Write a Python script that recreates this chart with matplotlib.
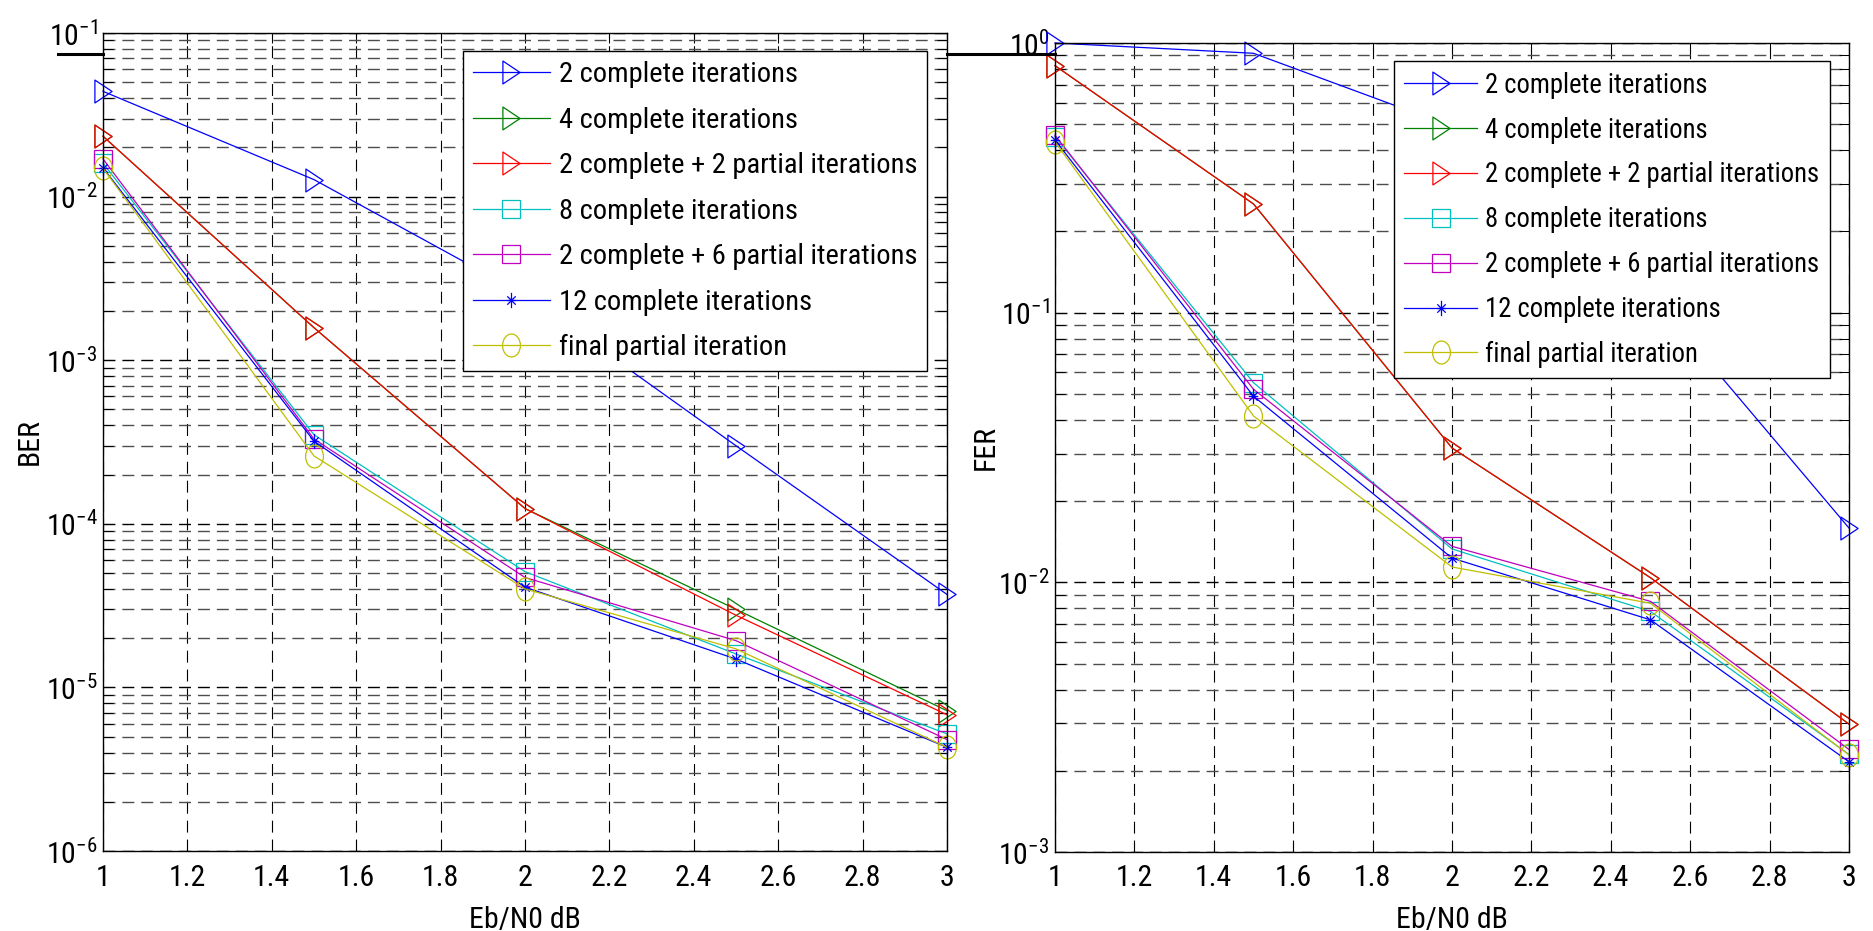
import matplotlib
matplotlib.use('Agg')
import matplotlib.pyplot as plt
from matplotlib import font_manager as fm
from matplotlib.path import Path
from matplotlib.lines import Line2D
from matplotlib.ticker import LogLocator, NullFormatter, FixedLocator, FixedFormatter, FuncFormatter
import numpy as np

# ---------------- data ----------------
ebn0 = [1.0, 1.5, 2.0, 2.5, 3.0]
xtick_vals = [1.0, 1.2, 1.4, 1.6, 1.8, 2.0, 2.2, 2.4, 2.6, 2.8, 3.0]
xtick_labels = ['1', '1.2', '1.4', '1.6', '1.8', '2', '2.2', '2.4', '2.6', '2.8', '3']

series_labels = ['2 complete iterations', '4 complete iterations',
                 '2 complete + 2 partial iterations', '8 complete iterations',
                 '2 complete + 6 partial iterations', '12 complete iterations',
                 'final partial iteration']

ber_2c = [4.4e-2, 1.27e-2, 2.5e-3, 3.0e-4, 3.7e-5]
ber_4c = [2.34e-2, 1.58e-3, 1.24e-4, 3.0e-5, 7.2e-6]
ber_2c2p = [2.34e-2, 1.58e-3, 1.24e-4, 2.76e-5, 6.8e-6]
ber_8c = [1.6e-2, 3.5e-4, 5.1e-5, 1.6e-5, 5.2e-6]
ber_2c6p = [1.7e-2, 3.3e-4, 4.7e-5, 1.93e-5, 4.8e-6]
ber_12c = [1.5e-2, 3.2e-4, 4.1e-5, 1.49e-5, 4.3e-6]
ber_final = [1.49e-2, 2.6e-4, 4.0e-5, 1.72e-5, 4.3e-6]

fer_2c = [1.0, 0.916, 0.49, 0.118, 0.0159]
fer_4c = [0.824, 0.253, 0.0315, 0.0104, 2.98e-3]
fer_2c2p = [0.824, 0.253, 0.0315, 0.0104, 2.98e-3]
fer_8c = [0.45, 0.055, 0.0133, 7.8e-3, 2.3e-3]
fer_2c6p = [0.455, 0.052, 0.0136, 8.5e-3, 2.4e-3]
fer_12c = [0.437, 0.049, 0.0123, 7.26e-3, 2.16e-3]
fer_final = [0.43, 0.0414, 0.0114, 8.36e-3, 2.29e-3]

# ---------------- font selection ----------------
entries = fm.fontManager.ttflist
names = {f.name for f in entries}
FONT, STRETCH, CONDENSED = 'Liberation Sans', 'normal', False
for c in ['Liberation Sans Narrow', 'Arial Narrow', 'Roboto Condensed',
          'Open Sans Condensed', 'Noto Sans Condensed', 'DejaVu Sans Condensed']:
    if c in names:
        FONT, CONDENSED = c, True
        break
if not CONDENSED:
    for pref in ['Liberation Sans', 'Roboto', 'Noto Sans', 'Open Sans', 'DejaVu Sans']:
        hit = [f for f in entries if f.name == pref and
               (str(f.stretch) in ('condensed', 'semi-condensed', '300', '400') or
                'Condensed' in f.fname or 'Narrow' in f.fname)
               and f.style == 'normal' and f.weight in (400, 'normal', 'regular')]
        if hit:
            FONT, STRETCH, CONDENSED = pref, 'condensed', True
            break

plt.rcParams['font.family'] = [FONT, 'DejaVu Sans']
plt.rcParams['font.stretch'] = STRETCH
plt.rcParams['lines.scale_dashes'] = False
plt.rcParams['mathtext.fontset'] = 'custom'
plt.rcParams['mathtext.rm'] = FONT

FS = 21.5
FS_LEG_L = 20.5 if CONDENSED else 18.6
FS_LEG_R = 19.2 if CONDENSED else 17.8

def lspace(fs, row_px):
    fpx = fs * 100 / 72
    return (row_px - 0.936 * fpx) / fpx

tri = Path([(-0.75, -1), (0.75, 0), (-0.75, 1), (-0.75, -1)],
           [Path.MOVETO, Path.LINETO, Path.LINETO, Path.CLOSEPOLY])
uc = Path.unit_circle()
ell = Path(uc.vertices * np.array([0.78, 1.0]), uc.codes)
star = Path([(0, -1), (0, 1), (-0.62, 0), (0.62, 0),
             (-0.55, -0.55), (0.55, 0.55), (-0.55, 0.55), (0.55, -0.55)],
            [Path.MOVETO, Path.LINETO] * 4)

colors = ['#0000ff', '#008000', '#ff0000', '#00bfbf', '#bf00bf', '#0000ff', '#bfbf00']
markers = [tri, tri, tri, 's', 's', star, ell]
msizes = [16.5, 16.5, 16.5, 13, 13, 11, 16.5]

W, H = 1874, 931
fig = plt.figure(figsize=(W / 100, H / 100), dpi=100)

def px_axes(l, t, r, b):
    return fig.add_axes([l / W, 1 - b / H, (r - l) / W, (b - t) / H])

axL = px_axes(103, 33, 947, 851)
axR = px_axes(1055, 43, 1849, 852)

dash = (0, (8.6, 5.0))

def style(ax, ylo, yhi, ylabel, ylab_x, xlab_y):
    ax.set_yscale('log')
    ax.set_xlim(1, 3)
    ax.set_ylim(ylo, yhi)
    ax.xaxis.set_major_locator(FixedLocator(xtick_vals))
    ax.xaxis.set_major_formatter(FixedFormatter(xtick_labels))
    ax.yaxis.set_major_locator(LogLocator(base=10, numticks=20))
    ax.yaxis.set_minor_locator(LogLocator(base=10, subs=np.arange(2, 10), numticks=20))
    ax.yaxis.set_minor_formatter(NullFormatter())
    ax.yaxis.set_major_formatter(FuncFormatter(
        lambda v, p: r'$\mathregular{10^{%d}}$' % int(round(np.log10(v)))))
    ax.tick_params(which='both', direction='in', top=True, right=True,
                   width=0.75, labelsize=FS)
    ax.tick_params(which='major', length=7)
    ax.tick_params(which='minor', length=7)
    ax.tick_params(axis='x', pad=9)
    ax.tick_params(axis='y', pad=4)
    ax.grid(True, which='major', axis='x', color='k', ls=dash, lw=0.8)
    ax.grid(True, which='major', axis='y', color='k', ls=dash, lw=1.0)
    ax.grid(True, which='minor', axis='y', color='0.3', ls=dash, lw=1.0)
    ax.set_axisbelow(True)
    for s in ax.spines.values():
        s.set_linewidth(1.0)
    ax.set_xlabel('Eb/N0 dB', fontsize=FS)
    ax.set_ylabel(ylabel, fontsize=FS)
    ax.xaxis.set_label_coords(0.5, xlab_y)
    ax.yaxis.set_label_coords(ylab_x, 0.5)

style(axL, 1e-6, 1e-1, 'BER', (44 - 103) / 844, (851 - 906) / 818)
style(axR, 1e-3, 1e0, 'FER', (1000 - 1055) / 794, (852 - 906) / 809)

ber_all = [ber_2c, ber_4c, ber_2c2p, ber_8c, ber_2c6p, ber_12c, ber_final]
fer_all = [fer_2c, fer_4c, fer_2c2p, fer_8c, fer_2c6p, fer_12c, fer_final]

for ax, data in ((axL, ber_all), (axR, fer_all)):
    for vals, c, m, ms, lab in zip(data, colors, markers, msizes, series_labels):
        ax.plot(ebn0, vals, color=c, lw=0.9, marker=m, ms=ms, mfc='none',
                mec=c, mew=0.9, label=lab, clip_on=False)

legL = axL.legend(loc='upper right', bbox_to_anchor=(927 / W, 1 - 51 / H),
                  bbox_transform=fig.transFigure, borderaxespad=0,
                  fontsize=FS_LEG_L, handlelength=77 / (FS_LEG_L * 100 / 72),
                  handletextpad=0.3, labelspacing=lspace(FS_LEG_L, 45.2),
                  borderpad=0.35, fancybox=False, framealpha=1, edgecolor='k')
legL.get_frame().set_linewidth(1.0)
legR = axR.legend(loc='upper right', bbox_to_anchor=(1830 / W, 1 - 61 / H),
                  bbox_transform=fig.transFigure, borderaxespad=0,
                  fontsize=FS_LEG_R, handlelength=73 / (FS_LEG_R * 100 / 72),
                  handletextpad=0.3, labelspacing=lspace(FS_LEG_R, 42.8),
                  borderpad=0.4, fancybox=False, framealpha=1, edgecolor='k')
legR.get_frame().set_linewidth(1.0)

# stray black bars seen in the reference
for x0, x1 in ((58, 103), (947, 1055)):
    fig.add_artist(Line2D([x0 / W, x1 / W], [1 - 54 / H, 1 - 54 / H],
                          transform=fig.transFigure, color='k', lw=2.2))

fig.savefig('out.png', dpi=100)
